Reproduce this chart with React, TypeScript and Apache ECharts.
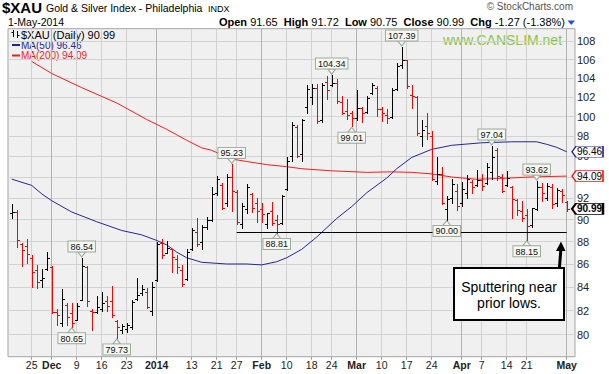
import React, { useEffect, useRef } from "react";
import * as echarts from "echarts";

const FONT = "'Liberation Sans', Arial, Helvetica, sans-serif";

// ---------- data ----------
const dates = [
  "2013-11-19", "2013-11-20", "2013-11-21", "2013-11-22", "2013-11-25", "2013-11-26", "2013-11-27", "2013-11-29",
  "2013-12-02", "2013-12-03", "2013-12-04", "2013-12-05", "2013-12-06", "2013-12-09", "2013-12-10", "2013-12-11",
  "2013-12-12", "2013-12-13", "2013-12-16", "2013-12-17", "2013-12-18", "2013-12-19", "2013-12-20", "2013-12-23",
  "2013-12-24", "2013-12-26", "2013-12-27", "2013-12-30", "2013-12-31",
  "2014-01-02", "2014-01-03", "2014-01-06", "2014-01-07", "2014-01-08", "2014-01-09", "2014-01-10", "2014-01-13",
  "2014-01-14", "2014-01-15", "2014-01-16", "2014-01-17", "2014-01-21", "2014-01-22", "2014-01-23", "2014-01-24",
  "2014-01-27", "2014-01-28", "2014-01-29", "2014-01-30", "2014-01-31",
  "2014-02-03", "2014-02-04", "2014-02-05", "2014-02-06", "2014-02-07", "2014-02-10", "2014-02-11", "2014-02-12",
  "2014-02-13", "2014-02-14", "2014-02-18", "2014-02-19", "2014-02-20", "2014-02-21", "2014-02-24", "2014-02-25",
  "2014-02-26", "2014-02-27", "2014-02-28",
  "2014-03-03", "2014-03-04", "2014-03-05", "2014-03-06", "2014-03-07", "2014-03-10", "2014-03-11", "2014-03-12",
  "2014-03-13", "2014-03-14", "2014-03-17", "2014-03-18", "2014-03-19", "2014-03-20", "2014-03-21", "2014-03-24",
  "2014-03-25", "2014-03-26", "2014-03-27", "2014-03-28", "2014-03-31",
  "2014-04-01", "2014-04-02", "2014-04-03", "2014-04-04", "2014-04-07", "2014-04-08", "2014-04-09", "2014-04-10",
  "2014-04-11", "2014-04-14", "2014-04-15", "2014-04-16", "2014-04-17", "2014-04-21", "2014-04-22", "2014-04-23",
  "2014-04-24", "2014-04-25", "2014-04-28", "2014-04-29", "2014-04-30",
  "2014-05-01",
];

const open = [
  90.6, 90.7, 87.8, 87.6, 86.5, 85.5, 84.6, 85.6,
  85.7, 81.9, 81.0, 82.5, 81.8, 81.2, 82.9, 85.7,
  82.0, 81.9, 82.1, 82.8, 82.8, 81.1, 80.4, 80.5,
  80.6, 83.0, 83.5, 83.6, 82.0,
  84.6, 87.9, 87.0, 87.3, 86.4, 85.5, 84.7, 87.3,
  88.9, 88.0, 89.3, 90.0, 92.5, 93.2, 91.5, 94.0,
  92.6, 89.6, 91.0, 92.4, 91.5,
  91.0, 89.6, 90.8, 90.0, 89.7, 92.9, 96.0, 98.9,
  96.2, 101.0, 102.0, 103.0, 99.6, 103.6, 103.3, 103.5,
  101.5, 100.6, 100.4,
  99.8, 100.9, 100.5, 102.4, 103.0, 100.8, 100.2, 100.0,
  102.9, 105.4, 106.0, 102.2, 102.0, 98.0, 99.0, 98.0,
  93.6, 94.3, 91.0, 92.0, 92.7,
  91.5, 92.5, 93.5, 93.2, 93.7, 93.4, 94.5, 96.6,
  94.0, 93.2, 93.0, 91.8, 90.8, 90.4, 89.5, 91.0,
  93.0, 92.0, 93.0, 91.5, 92.7,
  91.65,
];
const high = [
  91.4, 90.9, 87.9, 88.2, 86.8, 85.9, 85.6, 87.1,
  85.8, 82.1, 83.8, 82.6, 82.6, 82.6, 86.54, 85.8,
  82.1, 83.2, 83.6, 83.2, 84.1, 81.2, 80.9, 80.95,
  82.9, 84.8, 84.2, 83.9, 84.4,
  88.0, 88.2, 88.05, 87.3, 86.8, 85.95, 87.3, 89.2,
  90.1, 89.5, 90.2, 93.0, 94.1, 93.4, 94.3, 95.23,
  92.8, 91.5, 93.3, 92.5, 92.0,
  91.5, 90.65, 91.6, 90.45, 92.3, 95.9, 99.4, 99.1,
  99.7, 103.3, 103.4, 103.4, 103.5, 104.2, 104.34, 103.9,
  102.1, 101.8, 100.6,
  102.8, 101.0, 102.1, 103.5, 103.2, 101.0, 100.8, 103.0,
  105.6, 107.39, 106.0, 103.3, 102.1, 99.6, 100.4, 98.5,
  95.9, 95.0, 92.2, 93.85, 93.3,
  93.5, 94.2, 93.75, 94.7, 94.3, 95.4, 97.04, 96.8,
  94.3, 94.6, 93.1, 91.9, 91.7, 91.0, 91.1, 93.62,
  93.4, 93.4, 93.3, 92.95, 92.9,
  91.72,
];
const low = [
  90.1, 87.5, 85.8, 86.1, 84.0, 83.9, 84.0, 85.5,
  81.8, 80.8, 80.7, 80.8, 80.65, 81.2, 82.85, 82.4,
  80.4, 81.8, 82.0, 82.0, 81.5, 79.73, 80.1, 80.2,
  80.5, 82.9, 83.3, 82.2, 81.6,
  84.5, 86.5, 87.0, 85.3, 85.2, 84.05, 84.6, 87.2,
  87.6, 87.3, 89.1, 89.9, 92.3, 90.95, 91.3, 90.8,
  89.6, 89.2, 90.6, 90.7, 89.8,
  89.8, 89.25, 89.5, 88.81, 89.6, 92.8, 95.6, 95.9,
  95.6, 100.4, 101.3, 99.3, 99.4, 101.8, 103.2, 101.4,
  100.3, 99.7, 99.01,
  99.6, 99.45, 100.4, 102.3, 100.1, 99.5, 99.3, 99.9,
  102.7, 105.1, 103.0, 100.9, 98.1, 97.0, 97.7, 93.7,
  93.3, 91.4, 90.0, 91.5, 90.9,
  91.3, 92.0, 92.5, 93.1, 92.8, 93.3, 93.8, 93.75,
  92.6, 93.1, 90.15, 90.45, 89.85, 88.15, 89.3, 90.9,
  91.7, 91.8, 91.1, 91.3, 91.6,
  90.75,
];
const close = [
  90.7, 88.1, 87.2, 86.9, 85.3, 84.4, 84.8, 86.5,
  81.9, 81.6, 83.0, 81.5, 81.0, 82.4, 85.8, 82.8,
  81.9, 82.3, 82.6, 82.4, 81.6, 80.6, 80.7, 80.8,
  82.7, 83.3, 83.8, 82.3, 84.0,
  87.8, 86.8, 87.4, 86.6, 85.7, 84.3, 87.1, 89.0,
  87.8, 89.3, 90.0, 92.4, 93.8, 91.1, 94.0, 92.7,
  89.8, 91.3, 93.0, 91.1, 90.8,
  90.5, 90.6, 89.7, 89.6, 92.2, 95.6, 99.1, 96.0,
  99.6, 102.9, 103.0, 99.5, 103.3, 102.8, 103.5, 101.6,
  100.4, 100.2, 99.8,
  100.9, 100.4, 101.9, 103.3, 100.8, 100.4, 99.9, 102.8,
  105.3, 106.0, 103.2, 102.1, 98.3, 98.6, 98.3, 93.8,
  94.3, 91.5, 91.9, 93.3, 91.3,
  92.9, 93.8, 93.0, 93.7, 93.1, 95.0, 95.9, 94.1,
  92.7, 93.9, 91.9, 90.9, 90.1, 89.4, 91.1, 93.0,
  92.5, 93.1, 91.4, 92.8, 92.26,
  90.99,
];

const ma50Idx = [0, 4, 6, 8, 12, 17, 22, 26, 29, 31, 33, 35, 38, 43, 47, 50, 53, 55, 58, 61, 65, 68, 71, 75, 77, 80, 84, 88, 94, 100, 105, 107, 109, 111];
const ma50Val = [93.8, 93.2, 92.4, 91.75, 90.7, 89.8, 89.0, 88.6, 88.1, 87.7, 87.05, 86.55, 86.15, 86.0, 86.0, 85.92, 86.2, 86.55, 87.3, 88.4, 90.1, 91.2, 92.5, 93.9, 94.8, 95.9, 96.7, 97.1, 97.35, 97.45, 97.45, 97.2, 96.9, 96.46];
const ma200Idx = [4, 8, 14, 21, 27, 31, 35, 38, 40, 44, 47, 51, 55, 58, 64, 71, 76, 80, 84, 88, 93, 98, 104, 111];
const ma200Val = [105.8, 104.5, 103.0, 101.4, 99.7, 98.7, 97.6, 96.85, 96.6, 95.75, 95.5, 95.2, 95.0, 94.8, 94.6, 94.45, 94.5, 94.45, 94.3, 94.0, 93.78, 93.87, 94.01, 94.09];

const yTicks = [80, 82, 84, 86, 88, 90, 92, 94, 96, 98, 100, 102, 104, 106, 108];
const tickDates = [
  "2013-11-25", "2013-12-02", "2013-12-09", "2013-12-16", "2013-12-23", "2014-01-02", "2014-01-13", "2014-01-21",
  "2014-01-27", "2014-02-03", "2014-02-10", "2014-02-18", "2014-02-24", "2014-03-03", "2014-03-10", "2014-03-17",
  "2014-03-24", "2014-04-01", "2014-04-07", "2014-04-14", "2014-04-21", "2014-05-01",
];
const tickLabels = ["25", "Dec", "9", "16", "23", "2014", "13", "21", "27", "Feb", "10", "18", "24", "Mar", "10", "17", "24", "Apr", "7", "14", "21", "May"];
const boldLabels = ["Dec", "2014", "Feb", "Mar", "Apr", "May"];

const topCalloutDates = ["2013-12-10", "2014-01-24", "2014-02-24", "2014-03-14", "2014-04-09", "2014-04-23"];
const bottomCalloutDates = ["2013-12-06", "2013-12-19", "2014-02-06", "2014-02-28", "2014-03-27", "2014-04-21"];
const supportFrom = "2014-01-27";
const supportTo = "2014-05-01";
const supportAt = "2014-02-06";

const Y_MIN = 78.22;
const Y_MAX = 109.4;

function buildOption() {
  const L = Math.log;
  const n = dates.length;
  const last = n - 1;
  const ohlc = dates.map((_, i) => [
    i, L(open[i]), L(high[i]), L(low[i]), L(close[i]),
    i === 0 || close[i] >= close[i - 1] ? 1 : 0,
  ]);
  const tickIdx = tickDates.map((d) => dates.indexOf(d));
  const monthIdx = tickIdx.filter((_, k) => boldLabels.includes(tickLabels[k]));
  const yVals = yTicks.map((v) => L(v));

  const calloutLabel = {
    show: true,
    distance: 0,
    fontSize: 9,
    fontFamily: FONT,
    color: "#111",
    backgroundColor: "#f7f7f3",
    borderColor: "#9aab9a",
    borderWidth: 1,
    padding: [1, 2, 0, 2],
    lineHeight: 9,
  };
  const triStyle = { color: "#f7f7f3", borderColor: "#9aab9a", borderWidth: 1 };
  const topMarks = topCalloutDates.map((d) => {
    const i = dates.indexOf(d);
    return {
      coord: [i, L(high[i])],
      symbol: "path://M0,0 L8,0 L4,5 Z",
      symbolSize: [8, 5],
      symbolOffset: [0, -3.5],
      itemStyle: triStyle,
      label: { ...calloutLabel, position: "top", formatter: high[i].toFixed(2) },
    };
  });
  const bottomMarks = bottomCalloutDates.map((d) => {
    const i = dates.indexOf(d);
    return {
      coord: [i, L(low[i])],
      symbol: "path://M0,5 L8,5 L4,0 Z",
      symbolSize: [8, 5],
      symbolOffset: [0, 3.5],
      itemStyle: triStyle,
      label: { ...calloutLabel, position: "bottom", formatter: low[i].toFixed(2) },
    };
  });
  const flag = (value: number, border: string, bold: boolean, bw: number) => ({
    coord: [last, L(value)],
    symbol: "path://M0,5.5 L4,0 L31,0 L31,11 L4,11 Z",
    symbolSize: [31, 11],
    symbolOffset: [20.8, 0],
    itemStyle: { color: "#fbfbfb", borderColor: border, borderWidth: bw },
    label: {
      show: true,
      position: "inside",
      offset: [2, 0],
      formatter: value.toFixed(2),
      fontSize: 10,
      fontFamily: FONT,
      fontWeight: bold ? "bold" : "normal",
      color: "#000",
    },
  });
  const supportLevel = low[dates.indexOf(supportAt)];

  const xCommon = { type: "value", min: -0.74, max: 112.66 };

  return {
    animation: false,
    backgroundColor: "#ffffff",
    textStyle: { fontFamily: FONT },
    grid: {
      left: 8, right: 34, top: 28.7, bottom: 17.3,
      show: true, backgroundColor: "#f0f0f0", borderColor: "#a4a4a4", borderWidth: 1,
      containLabel: false, outerBoundsMode: "none",
    },
    xAxis: [
      {
        ...xCommon,
        position: "bottom",
        axisLine: { show: false },
        axisTick: { show: true, customValues: tickIdx, length: 3, lineStyle: { color: "#999" } },
        axisLabel: {
          customValues: tickIdx,
          margin: 3,
          fontSize: 10.5,
          color: "#222",
          fontFamily: FONT,
          formatter: (v: number) => {
            const k = tickIdx.indexOf(Math.round(v));
            if (k < 0) return "";
            const t = tickLabels[k];
            return boldLabels.includes(t) ? `{b|${t}}` : t;
          },
          rich: { b: { fontWeight: "bold", fontSize: 10.5, color: "#222", fontFamily: FONT } },
        },
        splitLine: { show: true, lineStyle: { color: "#d2d2d2", width: 1 } },
      },
      {
        ...xCommon,
        position: "top",
        axisLine: { show: false },
        axisTick: { show: false, customValues: monthIdx },
        axisLabel: { show: false, customValues: monthIdx },
        splitLine: { show: true, lineStyle: { color: "#b2b2b2", width: 1 } },
      },
    ],
    yAxis: {
      type: "value",
      position: "right",
      min: L(Y_MIN),
      max: L(Y_MAX),
      axisLine: { show: false },
      axisTick: { show: false, customValues: yVals },
      axisLabel: {
        customValues: yVals,
        margin: 2,
        fontSize: 11,
        color: "#222",
        fontFamily: FONT,
        formatter: (v: number) => String(Math.round(Math.exp(v))),
      },
      splitLine: { show: true, lineStyle: { color: "#d2d2d2", width: 1 } },
    },
    series: [
      {
        type: "custom",
        name: "$XAU",
        xAxisIndex: 0,
        data: ohlc,
        encode: { x: 0, y: [1, 2, 3, 4] },
        z: 3,
        renderItem: (_p: any, api: any) => {
          const i = api.value(0);
          const pH = api.coord([i, api.value(2)]);
          const pL = api.coord([i, api.value(3)]);
          const pO = api.coord([i, api.value(1)]);
          const pC = api.coord([i, api.value(4)]);
          const color = api.value(5) > 0 ? "#000000" : "#ff0000";
          const x = Math.round(pH[0]) + 0.5;
          const yo = Math.round(pO[1]) + 0.5;
          const yc = Math.round(pC[1]) + 0.5;
          const st = { stroke: color, lineWidth: 1 };
          return {
            type: "group",
            children: [
              { type: "line", shape: { x1: x, y1: Math.round(pH[1]), x2: x, y2: Math.round(pL[1]) + 1 }, style: st },
              { type: "line", shape: { x1: x - 2.5, y1: yo, x2: x, y2: yo }, style: st },
              { type: "line", shape: { x1: x, y1: yc, x2: x + 2.5, y2: yc }, style: st },
            ],
          };
        },
      },
      {
        type: "line",
        name: "MA(200)",
        xAxisIndex: 0,
        data: ma200Idx.map((i, k) => [i, L(ma200Val[k])]),
        showSymbol: false,
        symbol: "none",
        lineStyle: { color: "#ff1a1a", width: 1 },
        z: 2,
        markPoint: { data: [flag(ma200Val[ma200Val.length - 1], "#ff1a1a", false, 1)] },
      },
      {
        type: "line",
        name: "MA(50)",
        xAxisIndex: 0,
        data: ma50Idx.map((i, k) => [i, L(ma50Val[k])]),
        showSymbol: false,
        symbol: "none",
        lineStyle: { color: "#24249c", width: 1 },
        z: 2,
        markLine: {
          silent: true,
          symbol: ["none", "none"],
          label: { show: false },
          lineStyle: { color: "#000", width: 1, type: "solid" },
          data: [[
            { coord: [dates.indexOf(supportFrom), L(supportLevel)] },
            { coord: [dates.indexOf(supportTo), L(supportLevel)] },
          ]],
        },
        markPoint: {
          data: [
            ...topMarks,
            ...bottomMarks,
            flag(ma50Val[ma50Val.length - 1], "#24249c", false, 1),
            flag(close[last], "#000000", true, 1.5),
          ],
        },
      },
    ],
    graphic: [
      // header
      { type: "text", x: 2, y: 7, style: { text: "$XAU", font: `bold 15px ${FONT}`, fill: "#000", align: "left", verticalAlign: "middle" } },
      { type: "text", x: 46, y: 8, style: { text: "Gold & Silver Index - Philadelphia", font: `10.5px ${FONT}`, fill: "#000", align: "left", verticalAlign: "middle" } },
      { type: "text", x: 208, y: 8.5, style: { text: "INDX", font: `9px ${FONT}`, fill: "#000", align: "left", verticalAlign: "middle" } },
      { type: "text", x: 8, y: 22, style: { text: "1-May-2014", font: `10.5px ${FONT}`, fill: "#000", align: "left", verticalAlign: "middle" } },
      { type: "text", x: 573, y: 6.5, style: { text: "© StockCharts.com", font: `10px ${FONT}`, fill: "#555", align: "right", verticalAlign: "middle" } },
      {
        type: "text", x: 565, y: 22,
        style: {
          text: "{b|Open} 91.65  {b|High} 91.72  {b|Low} 90.75  {b|Close} 90.99  {b|Chg} -1.27 (-1.38%)",
          font: `11px ${FONT}`, fill: "#000", align: "right", verticalAlign: "middle",
          rich: { b: { fontWeight: "bold", fontSize: 11, fontFamily: FONT, fill: "#000" } },
        },
      },
      { type: "polygon", shape: { points: [[567.5, 20.5], [575, 20.5], [571.2, 25]] }, style: { fill: "#1e4ff0" } },
      // legend
      { type: "line", shape: { x1: 13.5, y1: 30, x2: 13.5, y2: 37 }, style: { stroke: "#000", lineWidth: 1 } },
      { type: "line", shape: { x1: 11.5, y1: 32.5, x2: 13.5, y2: 32.5 }, style: { stroke: "#000", lineWidth: 1 } },
      { type: "line", shape: { x1: 17.5, y1: 31, x2: 17.5, y2: 38 }, style: { stroke: "#000", lineWidth: 1 } },
      { type: "line", shape: { x1: 17.5, y1: 35.5, x2: 19.5, y2: 35.5 }, style: { stroke: "#000", lineWidth: 1 } },
      { type: "text", x: 21, y: 34.7, style: { text: "$XAU (Daily) 90.99", font: `11px ${FONT}`, fill: "#000", align: "left", verticalAlign: "middle" } },
      { type: "rect", shape: { x: 12, y: 44, width: 8, height: 2 }, style: { fill: "#24249c" } },
      { type: "text", x: 21, y: 45.4, style: { text: "MA(50) 96.46", font: `10px ${FONT}`, fill: "#24249c", align: "left", verticalAlign: "middle" } },
      { type: "rect", shape: { x: 12, y: 54.5, width: 8, height: 2 }, style: { fill: "#ff1a1a" } },
      { type: "text", x: 21, y: 55.6, style: { text: "MA(200) 94.09", font: `10px ${FONT}`, fill: "#ff1a1a", align: "left", verticalAlign: "middle" } },
      // watermark
      { type: "text", x: 443, y: 40, style: { text: "www.CANSLIM.net", font: `14px ${FONT}`, fill: "#8cc63f", align: "left", verticalAlign: "middle" } },
      // annotation
      { type: "rect", shape: { x: 454, y: 268, width: 110, height: 52 }, style: { fill: "#ffffff", stroke: "#000", lineWidth: 2 }, z: 10 },
      { type: "text", x: 509, y: 286.7, z: 11, style: { text: "Sputtering near", font: `14px ${FONT}`, fill: "#000", align: "center", verticalAlign: "middle" } },
      { type: "text", x: 509, y: 303.3, z: 11, style: { text: "prior lows.", font: `14px ${FONT}`, fill: "#000", align: "center", verticalAlign: "middle" } },
      { type: "line", shape: { x1: 559.5, y1: 267, x2: 560.8, y2: 250 }, style: { stroke: "#000", lineWidth: 3 }, z: 10 },
      { type: "polygon", shape: { points: [[556, 251], [565.5, 251], [561, 241.5]] }, style: { fill: "#000" }, z: 10 },
    ],
  };
}

export default function App() {
  const ref = useRef<HTMLDivElement>(null);
  useEffect(() => {
    if (!ref.current) return;
    const chart = echarts.init(ref.current, undefined, { renderer: "svg" });
    chart.setOption(buildOption() as any);
    return () => chart.dispose();
  }, []);
  return <div ref={ref} style={{ position: "fixed", left: 0, top: 0, width: 609, height: 374 }} />;
}
